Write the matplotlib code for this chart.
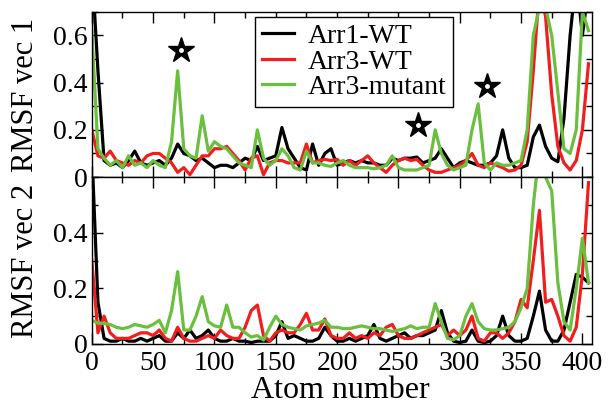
import matplotlib
matplotlib.use("Agg")
import matplotlib.pyplot as plt
from matplotlib.ticker import MultipleLocator

plt.rcParams['font.family'] = ['Liberation Serif', 'DejaVu Serif']
plt.rcParams['mathtext.fontset'] = 'stix'

atoms = list(range(0, 410, 5))

# Top panel (RMSF vec 1)
top_arr1_wt = [0.9, 0.45, 0.07, 0.05, 0.06, 0.04, 0.07, 0.11, 0.06, 0.05,
               0.06, 0.07, 0.05, 0.08, 0.14, 0.10, 0.09, 0.07, 0.08, 0.06,
               0.04, 0.05, 0.05, 0.04, 0.06, 0.08, 0.07, 0.13, 0.07, 0.08,
               0.09, 0.21, 0.12, 0.08, 0.04, 0.03, 0.14, 0.05, 0.10, 0.12,
               0.05, 0.06, 0.07, 0.06, 0.07, 0.06, 0.06, 0.05, 0.05, 0.08,
               0.07, 0.08, 0.08, 0.085, 0.06, 0.07, 0.08, 0.12, 0.08, 0.04,
               0.06, 0.07, 0.06, 0.05, 0.05, 0.06, 0.09, 0.20, 0.08, 0.04,
               0.04, 0.05, 0.17, 0.22, 0.13, 0.08, 0.065, 0.25, 0.60, 0.85,
               0.60, 0.80]
top_arr3_wt = [0.20, 0.09, 0.08, 0.11, 0.07, 0.06, 0.05, 0.07, 0.06, 0.09,
               0.10, 0.10, 0.08, 0.06, 0.02, 0.04, 0.01, 0.05, 0.09, 0.09,
               0.12, 0.12, 0.13, 0.10, 0.07, 0.03, 0.08, 0.09, 0.01, 0.06,
               0.07, 0.07, 0.06, 0.06, 0.06, 0.14, 0.06, 0.07, 0.075, 0.07,
               0.075, 0.05, 0.07, 0.05, 0.07, 0.09, 0.06, 0.04, 0.02, 0.05,
               0.07, 0.08, 0.07, 0.075, 0.05, 0.03, 0.02, 0.02, 0.03, 0.04,
               0.05, 0.07, 0.10, 0.05, 0.04, 0.06, 0.05, 0.04, 0.025, 0.03,
               0.05, 0.15, 0.45, 0.80, 0.68, 0.35, 0.13, 0.06, 0.03, 0.07,
               0.20, 0.48]
top_arr3_mut = [0.62, 0.12, 0.08, 0.05, 0.07, 0.04, 0.09, 0.05, 0.06, 0.04,
                0.07, 0.05, 0.04, 0.15, 0.45, 0.12, 0.09, 0.08, 0.26, 0.11,
                0.15, 0.13, 0.12, 0.09, 0.06, 0.05, 0.04, 0.20, 0.08, 0.05,
                0.07, 0.12, 0.09, 0.04, 0.03, 0.11, 0.06, 0.06, 0.05, 0.045,
                0.06, 0.07, 0.05, 0.04, 0.04, 0.04, 0.035, 0.04, 0.05, 0.09,
                0.04, 0.03, 0.03, 0.03, 0.04, 0.05, 0.20, 0.10, 0.05, 0.03,
                0.04, 0.05, 0.20, 0.31, 0.06, 0.03, 0.06, 0.05, 0.05, 0.06,
                0.07, 0.20, 0.60, 0.72, 0.72, 0.60, 0.36, 0.12, 0.10, 0.20,
                0.70, 0.62]

# Bottom panel (RMSF vec 2)
bot_arr1_wt = [0.70, 0.15, 0.02, 0.01, 0.01, 0.02, 0.01, 0.01, 0.02, 0.01,
               0.02, 0.03, 0.01, 0.01, 0.04, 0.02, 0.05, 0.02, 0.03, 0.05,
               0.02, 0.01, 0.01, 0.02, 0.01, 0.01, 0.005, 0.01, 0.01, 0.01,
               0.03, 0.08, 0.02, 0.03, 0.02, 0.01, 0.01, 0.02, 0.06, 0.03,
               0.01, 0.01, 0.02, 0.01, 0.02, 0.03, 0.07, 0.02, 0.01, 0.02,
               0.03, 0.04, 0.02, 0.03, 0.03, 0.04, 0.05, 0.12, 0.04, 0.01,
               0.005, 0.01, 0.05, 0.01, 0.005, 0.01, 0.03, 0.10, 0.03, 0.01,
               0.01, 0.02, 0.10, 0.19, 0.05, 0.01, 0.01, 0.05, 0.15, 0.25,
               0.24, 0.22]
bot_arr3_wt = [0.30, 0.04, 0.10, 0.04, 0.02, 0.02, 0.02, 0.03, 0.04, 0.04,
               0.03, 0.05, 0.02, 0.01, 0.06, 0.02, 0.01, 0.01, 0.02, 0.03,
               0.02, 0.05, 0.03, 0.02, 0.02, 0.06, 0.12, 0.14, 0.03, 0.01,
               0.04, 0.05, 0.04, 0.04, 0.07, 0.11, 0.05, 0.05, 0.09, 0.03,
               0.02, 0.02, 0.04, 0.02, 0.03, 0.02, 0.04, 0.03, 0.06, 0.07,
               0.03, 0.02, 0.02, 0.03, 0.04, 0.05, 0.06, 0.07, 0.03, 0.05,
               0.03, 0.05, 0.10, 0.02, 0.01, 0.04, 0.04, 0.02, 0.04, 0.08,
               0.16, 0.13, 0.30, 0.48, 0.15, 0.16, 0.10, 0.03, 0.01, 0.06,
               0.25, 0.58]
bot_arr3_mut = [0.085, 0.075, 0.074, 0.07, 0.06, 0.055, 0.06, 0.07, 0.065, 0.06,
                0.07, 0.085, 0.04, 0.12, 0.26, 0.05, 0.05, 0.10, 0.17, 0.08,
                0.065, 0.06, 0.14, 0.06, 0.06, 0.04, 0.025, 0.03, 0.014, 0.06,
                0.10, 0.07, 0.06, 0.055, 0.05, 0.065, 0.07, 0.075, 0.085, 0.06,
                0.06, 0.055, 0.055, 0.06, 0.065, 0.06, 0.055, 0.055, 0.05, 0.045,
                0.05, 0.055, 0.065, 0.055, 0.06, 0.06, 0.145, 0.08, 0.02, 0.015,
                0.03, 0.10, 0.145, 0.08, 0.055, 0.05, 0.05, 0.055, 0.06, 0.08,
                0.13, 0.20, 0.50, 0.70, 0.60, 0.55, 0.22, 0.08, 0.05, 0.20,
                0.38, 0.22]

star_x = [73, 266, 322]
star_y = [0.54, 0.22, 0.385]

labels = ['Arr1-WT', 'Arr3-WT', 'Arr3-mutant']
colors = ['#000000', '#f01e1e', '#6abf3e']

fig = plt.figure(figsize=(6.08, 4.08), dpi=100)
ax1 = fig.add_axes([0.151, 0.566, 0.823, 0.405])
ax2 = fig.add_axes([0.151, 0.157, 0.823, 0.409])

lw = 2.3
for ax, series in ((ax1, (top_arr1_wt, top_arr3_wt, top_arr3_mut)),
                   (ax2, (bot_arr1_wt, bot_arr3_wt, bot_arr3_mut))):
    for s, c, lab in zip(series, colors, labels):
        ax.plot(atoms, s, color=c, lw=lw, label=lab)
    ax.set_xlim(0, 408)
    ax.xaxis.set_major_locator(MultipleLocator(50))
    ax.xaxis.set_minor_locator(MultipleLocator(25))
    ax.yaxis.set_major_locator(MultipleLocator(0.2))
    ax.yaxis.set_minor_locator(MultipleLocator(0.1))
    ax.tick_params(which='both', direction='in', top=True, right=True, labelsize=20)
    ax.tick_params(which='major', length=8, width=1)
    ax.tick_params(which='minor', length=4, width=1)
    ax.tick_params(axis='x', pad=5)
    ax.tick_params(axis='y', pad=3)
    for sp in ax.spines.values():
        sp.set_linewidth(1.0)
    ax.yaxis.set_major_formatter(plt.FuncFormatter(lambda v, p: '0' if abs(v) < 1e-9 else f'{v:.1f}'))

ax1.set_ylim(0, 0.7)
ax2.set_ylim(0, 0.6)
ax1.tick_params(labelbottom=False)
ax2.set_yticks([0, 0.2, 0.4])
ax2.yaxis.set_minor_locator(MultipleLocator(0.1))

ax1.plot(star_x, star_y, linestyle='none', marker='*', ms=19, color='black')
ax1.plot(star_x, star_y, linestyle='none', marker='o', ms=2.5, color='white')

ax1.set_ylabel('RMSF vec 1', fontsize=22)
ax2.set_ylabel('RMSF vec 2', fontsize=22)
ax1.yaxis.set_label_coords(-0.104, 0.5)
ax2.yaxis.set_label_coords(-0.104, 0.5)
ax2.set_xlabel('Atom number', fontsize=23)
ax2.xaxis.set_label_coords(0.496, -0.19)

leg = ax1.legend(loc='upper left', bbox_to_anchor=(0.326, 0.97), fontsize=20,
                 frameon=True, fancybox=False, edgecolor='black', framealpha=1,
                 handlelength=1.15, handletextpad=0.5, borderpad=0.25, labelspacing=0.0,
                 borderaxespad=0)
leg.get_frame().set_linewidth(1.0)

fig.savefig('out.png', dpi=100)
